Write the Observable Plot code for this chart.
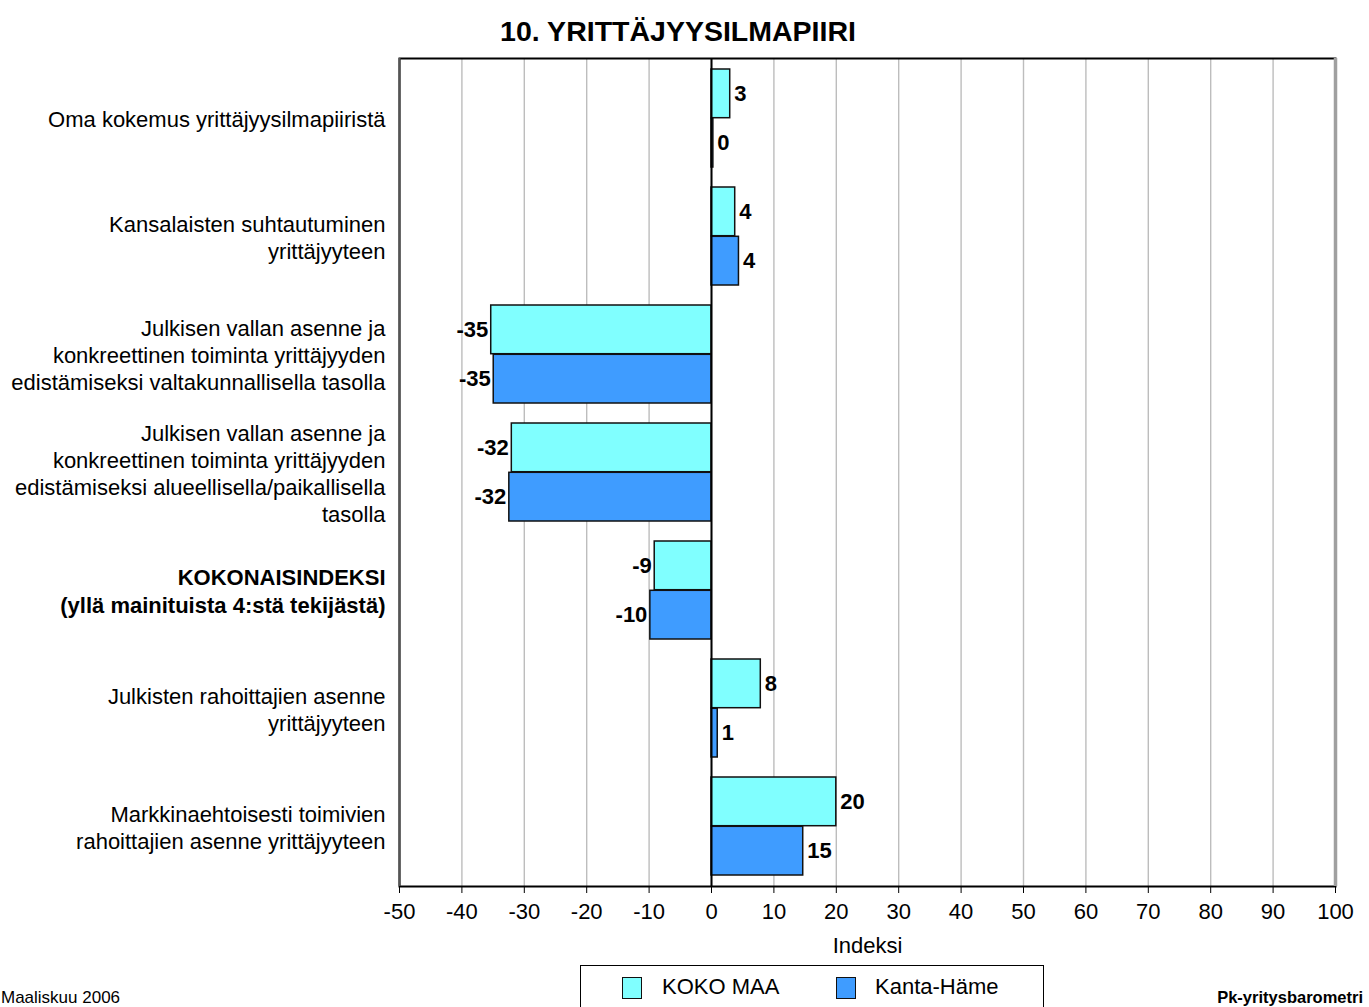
<!DOCTYPE html>
<html>
<head>
<meta charset="utf-8">
<script src="https://cdn.jsdelivr.net/npm/d3@7"></script>
<script src="https://cdn.jsdelivr.net/npm/@observablehq/plot@0.6"></script>
<style>
  html, body { margin: 0; padding: 0; background: #fff; overflow: hidden; }
  body { width: 1369px; height: 1007px; font-family: "Liberation Sans", Arial, sans-serif; color: #000; }
  #title { position: relative; height: 50px; width: 1356px; text-align: center; font-weight: bold; font-size: 28.5px; line-height: 62px; }
  #chart { display: block; }
  #footer { position: relative; height: 51px; }
  #legend { position: absolute; left: 580px; top: 9px; width: 464px; height: 60px; border: 1.5px solid #000; box-sizing: border-box; }
  .sw { position: absolute; width: 18px; height: 20px; border: 1.5px solid #111; top: 11px; }
  .lt { position: absolute; top: 8px; font-size: 22px; line-height: 26px; }
  #left { position: absolute; left: 1px; top: 32px; font-size: 17px; }
  #right { position: absolute; right: 6px; top: 32px; font-size: 16.5px; font-weight: bold; }
</style>
</head>
<body>
<div id="title">10. YRITTÄJYYSILMAPIIRI</div>
<div id="chart"></div>
<div id="footer">
  <div id="left">Maaliskuu 2006</div>
  <div id="legend">
    <div class="sw" style="left:41px;background:#80FFFF"></div>
    <div class="lt" style="left:81px">KOKO MAA</div>
    <div class="sw" style="left:255px;background:#3F9CFF"></div>
    <div class="lt" style="left:294px">Kanta-Häme</div>
  </div>
  <div id="right">Pk-yritysbarometri</div>
</div>
<script>
const categories = [
  "Oma kokemus yrittäjyysilmapiiristä",
  "Kansalaisten suhtautuminen\nyrittäjyyteen",
  "Julkisen vallan asenne ja\nkonkreettinen toiminta yrittäjyyden\nedistämiseksi valtakunnallisella tasolla",
  "Julkisen vallan asenne ja\nkonkreettinen toiminta yrittäjyyden\nedistämiseksi alueellisella/paikallisella\ntasolla",
  "KOKONAISINDEKSI\n(yllä mainituista 4:stä tekijästä)",
  "Julkisten rahoittajien asenne\nyrittäjyyteen",
  "Markkinaehtoisesti toimivien\nrahoittajien asenne yrittäjyyteen"
];
const boldCategory = "KOKONAISINDEKSI\n(yllä mainituista 4:stä tekijästä)";
const seriesNames = ["KOKO MAA", "Kanta-Häme"];
const kokoMaa = [3.0, 3.8, -35.3, -32.0, -9.1, 7.9, 20.0];
const kantaHame = [0.3, 4.4, -34.9, -32.4, -9.8, 1.0, 14.7];
const xTicks = [-50, -40, -30, -20, -10, 0, 10, 20, 30, 40, 50, 60, 70, 80, 90, 100];
const seriesColors = ["#80FFFF", "#3F9CFF"];

const rowsK = categories.map((c, i) => ({cat: c, series: seriesNames[0], value: kokoMaa[i]}));
const rowsH = categories.map((c, i) => ({cat: c, series: seriesNames[1], value: kantaHame[i]}));
const half = 49.3;
const fmt = d => String(Math.round(d.value));
const labelStyle = {fontSize: 22, fontWeight: "bold", fill: "#000"};

const chart = Plot.plot({
  width: 1369,
  height: 906,
  marginLeft: 399,
  marginRight: 34,
  marginTop: 8,
  marginBottom: 70,
  style: {fontFamily: "'Liberation Sans', Arial, sans-serif", fontSize: "22px", color: "#000", background: "#fff", overflow: "visible"},
  x: {domain: [-50, 100], ticks: xTicks, tickSize: 7, tickPadding: 10, tickFormat: d => String(d),
      label: "Indeksi", labelAnchor: "center", labelOffset: 66, labelArrow: false},
  y: {domain: categories, paddingInner: 0.167, paddingOuter: 0.0835, axis: null},
  marks: [
    Plot.ruleX(xTicks.slice(1, -1), {stroke: "#BDBDBD", strokeWidth: 1.4}),
    Plot.frame({stroke: "#000", strokeWidth: 2}),
    Plot.ruleX([-50], {stroke: "#555", strokeWidth: 2}),
    Plot.ruleX([100], {stroke: "#A0A0A0", strokeWidth: 3.5}),
    Plot.barX(rowsK, {x: "value", y: "cat", fill: seriesColors[0], stroke: "#111", strokeWidth: 1.5, insetBottom: half, insetTop: 0}),
    Plot.barX(rowsH, {x: "value", y: "cat", fill: seriesColors[1], stroke: "#111", strokeWidth: 1.5, insetTop: half, insetBottom: 0}),
    Plot.ruleX([0], {stroke: "#000", strokeWidth: 2}),
    Plot.text(rowsK.filter(d => d.value >= 0), {x: "value", y: "cat", text: fmt, dy: -half / 2, dx: 4, textAnchor: "start", ...labelStyle}),
    Plot.text(rowsK.filter(d => d.value < 0), {x: "value", y: "cat", text: fmt, dy: -half / 2, dx: -3, textAnchor: "end", ...labelStyle}),
    Plot.text(rowsH.filter(d => d.value >= 0), {x: "value", y: "cat", text: fmt, dy: half / 2, dx: 4, textAnchor: "start", ...labelStyle}),
    Plot.text(rowsH.filter(d => d.value < 0), {x: "value", y: "cat", text: fmt, dy: half / 2, dx: -3, textAnchor: "end", ...labelStyle}),
    Plot.text(categories.filter(c => c !== boldCategory), {y: d => d, text: d => d, frameAnchor: "left", textAnchor: "end", dx: -14, lineHeight: 1.23, fontSize: 22, fill: "#000"}),
    Plot.text([boldCategory], {y: d => d, text: d => d, frameAnchor: "left", textAnchor: "end", dx: -14, lineHeight: 1.27, fontSize: 22, fontWeight: "bold", fill: "#000"})
  ]
});
document.getElementById("chart").appendChild(chart);
</script>
</body>
</html>
